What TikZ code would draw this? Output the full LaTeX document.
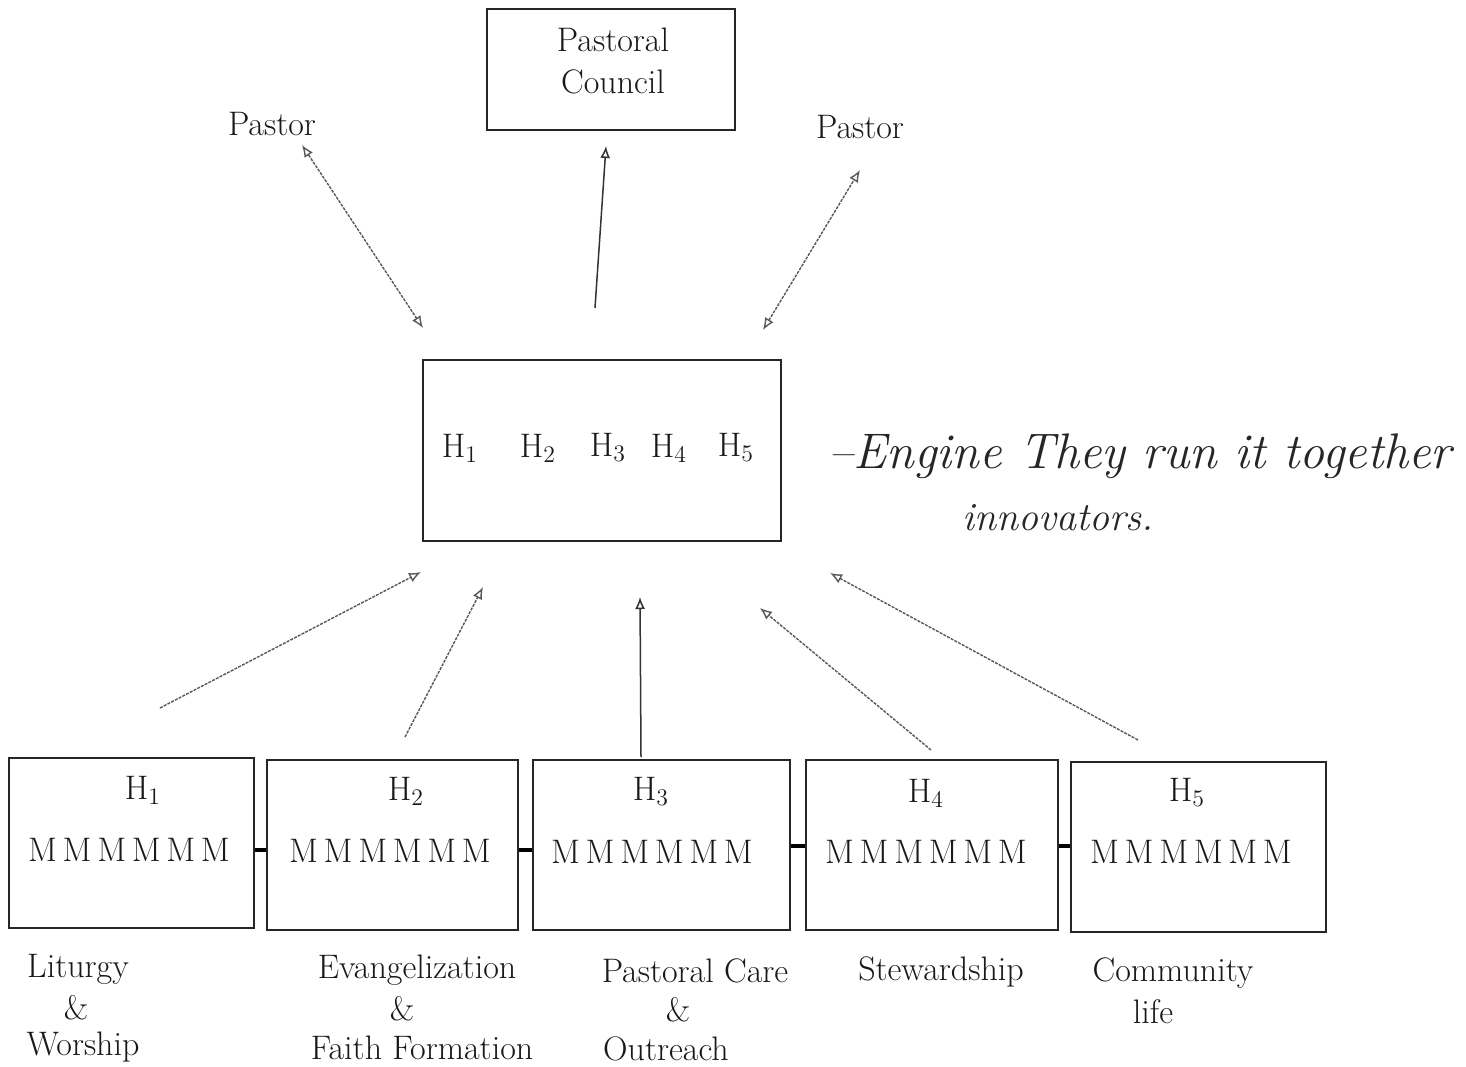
\documentclass[tikz,border=0pt]{standalone}
\usetikzlibrary{arrows.meta}
\newcommand{\mrow}{M\,M\,M\,M\,M\,M}
\begin{document}
\begin{tikzpicture}[x=0.5pt,y=-0.5pt,
  font=\fontsize{17}{20}\selectfont,
  every node/.style={text=black!90},
  box/.style={draw=black!85, line width=0.8pt, inner sep=0pt},
  lbl/.style={inner sep=0pt, align=center},
  hand/.style={inner sep=0pt, font=\fontsize{25}{28}\selectfont\itshape, text=black!85},
  link/.style={draw=black!65, line width=0.7pt, dash pattern=on 1.5pt off 0.6pt},
  tip/.style={-{Latex[open,length=6pt,width=5pt]}},
  dtip/.style={{Latex[open,length=6pt,width=5pt]}-{Latex[open,length=6pt,width=5pt]}},
  joint/.style={draw=black, line width=1.6pt}
]
\useasboundingbox (0,0) rectangle (1466,1066);
\fill[white] (0,0) rectangle (1466,1066);

% top
\node[box, minimum width=124pt, minimum height=60.5pt] (pc) at (611,69.5) {};
\node[lbl] (pct) at (613,61) {Pastoral\\[1pt]Council};
\node[lbl] (pl) at (272,124) {Pastor};
\node[lbl] (pr) at (860,127) {Pastor};

% middle
\node[box, minimum width=179pt, minimum height=90.5pt] (mid) at (602,450.5) {};
\node[lbl] (mh1) at (460,448) {H\textsubscript{1}};
\node[lbl] (mh2) at (538,448) {H\textsubscript{2}};
\node[lbl] (mh3) at (608,448) {H\textsubscript{3}};
\node[lbl] (mh4) at (669,448) {H\textsubscript{4}};
\node[lbl] (mh5) at (736,448) {H\textsubscript{5}};

\node[hand, anchor=west] (hw1) at (828,456) {--Engine They run it together};
\node[hand, anchor=west, font=\fontsize{20}{24}\selectfont\itshape] (hw2) at (962,518) {innovators.};

% bottom boxes
\node[box, minimum width=122.5pt, minimum height=85pt] (b1) at (131.5,843) {};
\node[box, minimum width=125.5pt, minimum height=85pt] (b2) at (392.5,845) {};
\node[box, minimum width=128.5pt, minimum height=85pt] (b3) at (661.5,845) {};
\node[box, minimum width=126pt, minimum height=85pt] (b4) at (932,845) {};
\node[box, minimum width=127.5pt, minimum height=85pt] (b5) at (1198.5,847) {};

\node[lbl] (h1) at (143,790) {H\textsubscript{1}};
\node[lbl] (h2) at (406,791) {H\textsubscript{2}};
\node[lbl] (h3) at (651,792) {H\textsubscript{3}};
\node[lbl] (h4) at (926,793) {H\textsubscript{4}};
\node[lbl] (h5) at (1187,793) {H\textsubscript{5}};

\node[lbl] (m1) at (129,850) {\mrow};
\node[lbl] (m2) at (390,851) {\mrow};
\node[lbl] (m3) at (652,852) {\mrow};
\node[lbl] (m4) at (926,852) {\mrow};
\node[lbl] (m5) at (1191,852) {\mrow};

\draw[joint] ([yshift=-3.5pt]b1.east) -- ([yshift=-2.5pt]b2.west);
\draw[joint] ([yshift=-2.5pt]b2.east) -- ([yshift=-2.5pt]b3.west);
\draw[joint] ([yshift=-0.5pt]b3.east) -- ([yshift=-0.5pt]b4.west);
\draw[joint] ([yshift=-0.5pt]b4.east) -- ([yshift=0.5pt]b5.west);

% labels under boxes
\node[lbl] (l1a) at (78,969) {Liturgy};
\node[lbl] (l1b) at (76,1008) {\&};
\node[lbl] (l1c) at (83,1047) {Worship};
\node[lbl] (l2a) at (417,970) {Evangelization};
\node[lbl] (l2b) at (402,1009) {\&};
\node[lbl] (l2c) at (422,1048) {Faith Formation};
\node[lbl] (l3a) at (695,971) {Pastoral Care};
\node[lbl] (l3b) at (678,1010) {\&};
\node[lbl] (l3c) at (666,1049) {Outreach};
\node[lbl] (l4a) at (941,972) {Stewardship};
\node[lbl] (l5a) at (1173,973) {Community};
\node[lbl] (l5b) at (1153,1012) {life};

% arrow end points
\coordinate (a1s) at (423,328); \coordinate (a1e) at (302,145);
\coordinate (a2s) at (595,308); \coordinate (a2e) at (606,146);
\coordinate (a3s) at (763,330); \coordinate (a3e) at (860,170);
\coordinate (c1s) at (160,708); \coordinate (c1e) at (421,572);
\coordinate (c2s) at (405,737); \coordinate (c2e) at (483,587);
\coordinate (c3s) at (641,757); \coordinate (c3e) at (640,597);
\coordinate (c4s) at (931,750); \coordinate (c4e) at (760,608);
\coordinate (c5s) at (1138,740); \coordinate (c5e) at (830,573);

\draw[link, dtip] (a1s) -- (a1e);
\draw[draw=black!80, line width=0.75pt, tip] (a2s) -- (a2e);
\draw[link, dtip] (a3s) -- (a3e);
\draw[link, tip] (c1s) -- (c1e);
\draw[link, tip] (c2s) -- (c2e);
\draw[draw=black!80, line width=0.75pt, tip] (c3s) -- (c3e);
\draw[link, tip] (c4s) -- (c4e);
\draw[link, tip] (c5s) -- (c5e);
\end{tikzpicture}
\end{document}
